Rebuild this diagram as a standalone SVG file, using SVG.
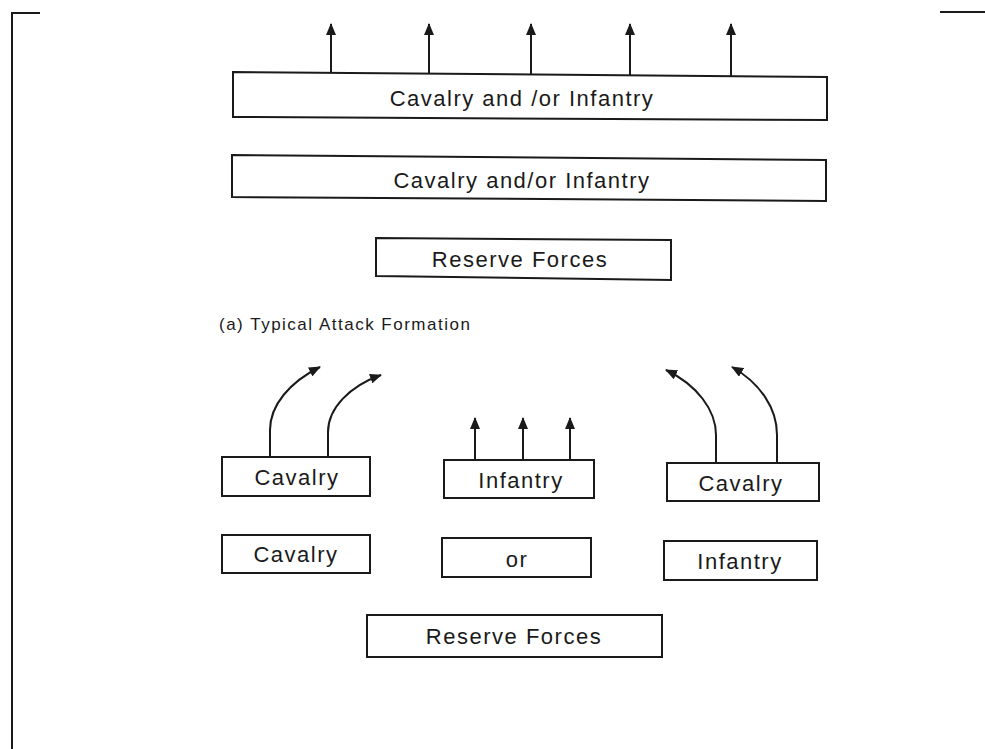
<svg xmlns="http://www.w3.org/2000/svg" width="985" height="749" viewBox="0 0 985 749">
<style>
.box{fill:#fff;stroke:#1a1a1a;stroke-width:2}
.lbl{font-family:"Liberation Sans",Arial,sans-serif;font-size:22px;letter-spacing:1.5px;fill:#1a1a1a;text-anchor:middle;dominant-baseline:central}
.cap{font-family:"Liberation Sans",Arial,sans-serif;font-size:17px;letter-spacing:1.5px;fill:#1a1a1a}
.con{fill:none;stroke:#1a1a1a;stroke-width:2}
.frame{fill:none;stroke:#1a1a1a;stroke-width:2}
</style>
<defs>
<marker id="a" viewBox="0 0 12 10" refX="11" refY="5" markerWidth="12" markerHeight="10" orient="auto" markerUnits="userSpaceOnUse">
<path d="M0,0 L12,5 L0,10 z" fill="#1a1a1a"/>
</marker>
</defs>
<g id="frame">
<path class="frame" d="M12,749 L12,13 L40,13"/>
<path class="frame" d="M940,12 L985,12"/>
</g>
<g id="connectors">
<line class="con" x1="331" y1="72" x2="331" y2="24" marker-end="url(#a)"/>
<line class="con" x1="429" y1="73" x2="429" y2="24" marker-end="url(#a)"/>
<line class="con" x1="531" y1="74" x2="531" y2="24" marker-end="url(#a)"/>
<line class="con" x1="630" y1="75" x2="630" y2="24" marker-end="url(#a)"/>
<line class="con" x1="731" y1="76" x2="731" y2="24" marker-end="url(#a)"/>
<path class="con" d="M270,457 L270,430 C270,405 290,382 320,367" marker-end="url(#a)"/>
<path class="con" d="M328,457 L328,432 C328,408 350,386 381,375" marker-end="url(#a)"/>
<line class="con" x1="475" y1="460" x2="475" y2="418" marker-end="url(#a)"/>
<line class="con" x1="523" y1="460" x2="523" y2="418" marker-end="url(#a)"/>
<line class="con" x1="570" y1="460" x2="570" y2="418" marker-end="url(#a)"/>
<path class="con" d="M716,463 L716,435 C716,410 697,385 666,370" marker-end="url(#a)"/>
<path class="con" d="M777,463 L777,435 C777,408 760,383 732,367" marker-end="url(#a)"/>
</g>
<g id="n1">
<polygon class="box" points="233,72 827,77 827,120 233,117"/>
<text class="lbl" x="522" y="98">Cavalry and /or Infantry</text>
</g>
<g id="n2">
<polygon class="box" points="232,155 826,160 826,201 232,197"/>
<text class="lbl" x="522" y="180">Cavalry and/or Infantry</text>
</g>
<g id="n3">
<polygon class="box" points="376,238 671,240 671,280 376,276"/>
<text class="lbl" x="520" y="259">Reserve Forces</text>
</g>
<text class="cap" x="219" y="330">(a) Typical Attack Formation</text>
<g id="n4">
<rect class="box" x="222" y="457" width="148" height="39"/>
<text class="lbl" x="297" y="477">Cavalry</text>
</g>
<g id="n5">
<rect class="box" x="444" y="460" width="150" height="38"/>
<text class="lbl" x="521" y="480">Infantry</text>
</g>
<g id="n6">
<rect class="box" x="667" y="463" width="152" height="38"/>
<text class="lbl" x="741" y="483">Cavalry</text>
</g>
<g id="n7">
<rect class="box" x="222" y="535" width="148" height="38"/>
<text class="lbl" x="296" y="554">Cavalry</text>
</g>
<g id="n8">
<rect class="box" x="442" y="538" width="149" height="39"/>
<text class="lbl" x="517" y="559">or</text>
</g>
<g id="n9">
<rect class="box" x="664" y="541" width="153" height="39"/>
<text class="lbl" x="740" y="561">Infantry</text>
</g>
<g id="n10">
<rect class="box" x="367" y="615" width="295" height="42"/>
<text class="lbl" x="514" y="636">Reserve Forces</text>
</g>
</svg>
